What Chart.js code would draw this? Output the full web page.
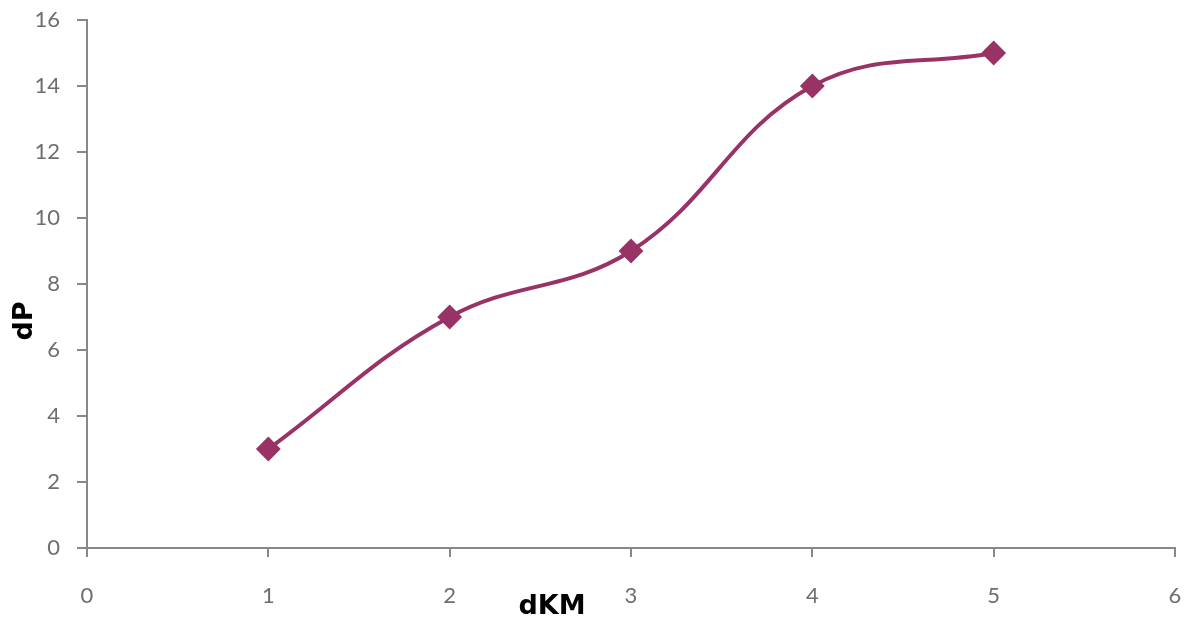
<!DOCTYPE html>
<html>
<head>
<meta charset="utf-8">
<script src="https://cdn.jsdelivr.net/npm/chart.js@4/dist/chart.umd.min.js"></script>
<style>
  html, body { margin: 0; padding: 0; background: #fff; }
  #wrap { width: 1188px; height: 625px; position: relative; }
</style>
</head>
<body>
<div id="wrap"><canvas id="c" width="1188" height="625"></canvas></div>
<script>
const xValues = [1, 2, 3, 4, 5];
const yValues = [3, 7, 9, 14, 15];
const xTitle = 'dKM';
const yTitle = 'dP';

const lineColor = '#993366';
const axisColor = '#888888';
const tickColor = '#6e6e6e';

const titlePlugin = {
  id: 'axisTitles',
  afterDraw(chart) {
    const ctx = chart.ctx;
    ctx.save();
    ctx.fillStyle = '#000';
    ctx.font = 'bold 27px "DejaVu Sans"';
    ctx.textAlign = 'center';
    ctx.textBaseline = 'middle';
    ctx.fillText(xTitle, 552, 607);
    ctx.translate(25, 321);
    ctx.rotate(-Math.PI / 2);
    ctx.fillText(yTitle, 0, 0);
    ctx.restore();
  }
};

function zeroPad(scale) {
  scale.paddingTop = 0;
  scale.paddingBottom = 0;
  scale.paddingLeft = 0;
  scale.paddingRight = 0;
}

new Chart(document.getElementById('c'), {
  type: 'line',
  data: {
    datasets: [{
      data: xValues.map((x, i) => ({ x: x, y: yValues[i] })),
      borderColor: lineColor,
      backgroundColor: lineColor,
      borderWidth: 4,
      tension: 0.4,
      pointStyle: 'rectRot',
      pointRadius: 11,
      pointBorderWidth: 2,
      pointBackgroundColor: lineColor,
      pointBorderColor: lineColor,
      fill: false
    }]
  },
  options: {
    responsive: false,
    animation: false,
    layout: { padding: { top: 20, right: 10, left: 0, bottom: 0 } },
    plugins: { legend: { display: false }, tooltip: { enabled: false } },
    scales: {
      x: {
        type: 'linear',
        min: 0, max: 6,
        ticks: { stepSize: 1, color: tickColor, font: { family: 'Lato', size: 22 }, padding: 26 },
        grid: { display: true, drawOnChartArea: false, drawTicks: true, tickLength: 9, color: axisColor, lineWidth: 2 },
        border: { display: true, color: axisColor, width: 2 },
        afterFit(scale) { scale.height = 77; zeroPad(scale); }
      },
      y: {
        min: 0, max: 16,
        ticks: { stepSize: 2, color: tickColor, font: { family: 'Lato', size: 22 }, padding: 17 },
        grid: { display: true, drawOnChartArea: false, drawTicks: true, tickLength: 10, color: axisColor, lineWidth: 2 },
        border: { display: true, color: axisColor, width: 2 },
        afterFit(scale) { scale.width = 87; zeroPad(scale); }
      }
    }
  },
  plugins: [titlePlugin]
});
</script>
</body>
</html>
